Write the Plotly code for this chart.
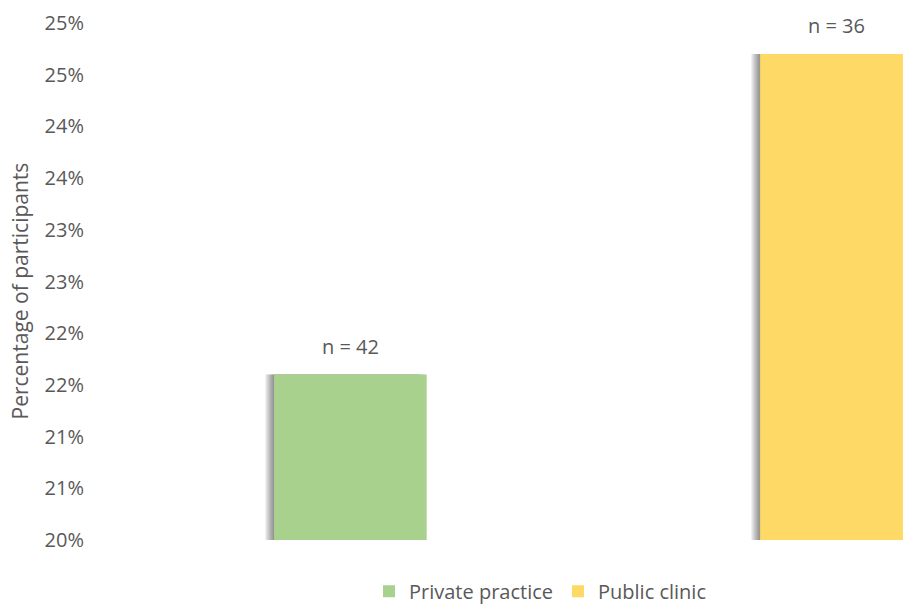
import plotly.graph_objects as go

# Share of participants by practice setting
groups = ["Private practice", "Public clinic"]
shares = [21.6, 24.7]
counts = [42, 36]
colors = ["#A9D18E", "#FFD966"]

tick_values = [20, 20.5, 21, 21.5, 22, 22.5, 23, 23.5, 24, 24.5, 25]
tick_labels = ["20%", "21%", "21%", "22%", "22%", "23%", "23%", "24%", "24%", "25%", "25%"]
y_title = "Percentage of participants"

W, H = 903, 604
M_L, M_R, M_T, M_B = 85, 0, 23, 64
X_RANGE = [-0.546, 1.137]
BAR_W = 0.314
TEXT = "#595959"
FONT = "Open Sans"

px_per_unit = (W - M_L - M_R) / (X_RANGE[1] - X_RANGE[0])

fig = go.Figure()

# soft drop shadow: stacked translucent grey layers shifted left behind each bar
for shift in range(9, 0, -1):
    fig.add_trace(go.Bar(
        x=[i - shift / px_per_unit for i in range(len(groups))],
        y=shares,
        width=BAR_W,
        marker=dict(color="rgba(40,40,40,0.07)", line=dict(width=0)),
        showlegend=False,
        hoverinfo="skip",
    ))

for i, (g, v, c) in enumerate(zip(groups, shares, colors)):
    fig.add_trace(go.Bar(
        x=[i], y=[v], name=g, width=BAR_W,
        marker=dict(color=c, line=dict(width=0)),
    ))
    fig.add_annotation(
        x=i, y=v, text=f"n = {counts[i]}", showarrow=False,
        yanchor="bottom", yshift=13,
        font=dict(family=FONT, size=20, color=TEXT),
    )

# vertical axis title, placed in the left margin
fig.add_annotation(
    xref="paper", yref="paper", x=0, y=0.5, xshift=-66, yshift=-10,
    text=y_title, textangle=-90, showarrow=False,
    xanchor="center", yanchor="middle",
    font=dict(family=FONT, size=21, color=TEXT),
)

fig.update_layout(
    width=W, height=H,
    margin=dict(l=M_L, r=M_R, t=M_T, b=M_B),
    barmode="overlay",
    paper_bgcolor="white", plot_bgcolor="white",
    font=dict(family=FONT, size=20, color=TEXT),
    xaxis=dict(range=X_RANGE, showticklabels=False, showgrid=False,
               zeroline=False, showline=False),
    yaxis=dict(range=[20, 25], tickvals=tick_values, ticktext=tick_labels,
               showgrid=False, zeroline=False, showline=False,
               ticks="", tickfont=dict(size=20, color=TEXT)),
    legend=dict(orientation="h", xref="container", yref="container",
                x=0.598, xanchor="center", y=0.021, yanchor="middle",
                font=dict(size=20, color=TEXT), itemwidth=30,
                traceorder="normal"),
    showlegend=True,
)

fig.write_html("out.html")
